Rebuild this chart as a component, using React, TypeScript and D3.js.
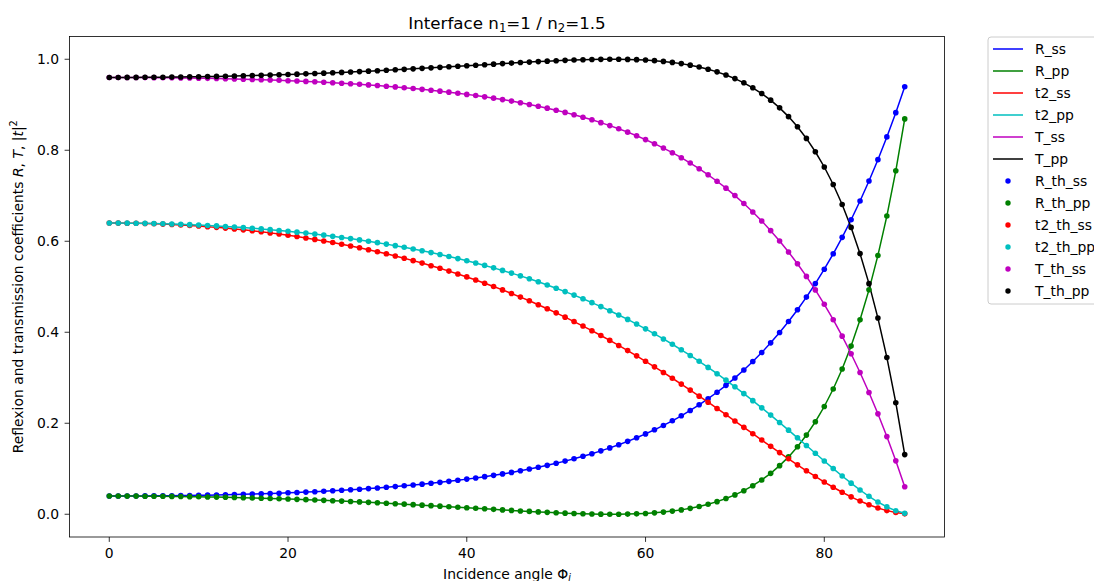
import React from "react";
import * as d3 from "d3";

const angles = [
  0, 1, 2, 3, 4, 5, 6, 7, 8, 9, 10, 11, 12, 13, 14, 15, 16, 17, 18, 19,
  20, 21, 22, 23, 24, 25, 26, 27, 28, 29, 30, 31, 32, 33, 34, 35, 36, 37, 38, 39,
  40, 41, 42, 43, 44, 45, 46, 47, 48, 49, 50, 51, 52, 53, 54, 55, 56, 57, 58, 59,
  60, 61, 62, 63, 64, 65, 66, 67, 68, 69, 70, 71, 72, 73, 74, 75, 76, 77, 78, 79,
  80, 81, 82, 83, 84, 85, 86, 87, 88, 89,
];

const R_ss = [
  0.0400, 0.0400, 0.0401, 0.0401, 0.0403, 0.0404, 0.0406, 0.0408, 0.0411, 0.0413,
  0.0417, 0.0420, 0.0424, 0.0428, 0.0433, 0.0438, 0.0444, 0.0450, 0.0456, 0.0463,
  0.0471, 0.0479, 0.0487, 0.0496, 0.0506, 0.0516, 0.0527, 0.0539, 0.0551, 0.0564,
  0.0578, 0.0593, 0.0608, 0.0625, 0.0642, 0.0661, 0.0680, 0.0701, 0.0723, 0.0747,
  0.0772, 0.0798, 0.0826, 0.0855, 0.0887, 0.0920, 0.0956, 0.0993, 0.1033, 0.1075,
  0.1120, 0.1168, 0.1219, 0.1274, 0.1331, 0.1393, 0.1458, 0.1528, 0.1602, 0.1681,
  0.1766, 0.1856, 0.1952, 0.2054, 0.2164, 0.2281, 0.2405, 0.2539, 0.2681, 0.2833,
  0.2996, 0.3170, 0.3356, 0.3554, 0.3767, 0.3994, 0.4236, 0.4496, 0.4773, 0.5069,
  0.5386, 0.5724, 0.6086, 0.6472, 0.6884, 0.7323, 0.7793, 0.8293, 0.8826, 0.9395,
];

const R_pp = [
  0.0400, 0.0400, 0.0399, 0.0399, 0.0397, 0.0396, 0.0394, 0.0392, 0.0390, 0.0387,
  0.0384, 0.0380, 0.0377, 0.0372, 0.0368, 0.0363, 0.0358, 0.0353, 0.0347, 0.0341,
  0.0335, 0.0328, 0.0321, 0.0313, 0.0306, 0.0297, 0.0289, 0.0280, 0.0271, 0.0262,
  0.0252, 0.0243, 0.0232, 0.0222, 0.0211, 0.0200, 0.0189, 0.0178, 0.0166, 0.0155,
  0.0143, 0.0131, 0.0120, 0.0108, 0.0096, 0.0085, 0.0073, 0.0063, 0.0052, 0.0042,
  0.0033, 0.0024, 0.0017, 0.0010, 0.0005, 0.0002, 0.0000, 0.0001, 0.0003, 0.0009,
  0.0018, 0.0031, 0.0047, 0.0069, 0.0096, 0.0130, 0.0170, 0.0219, 0.0277, 0.0345,
  0.0425, 0.0518, 0.0627, 0.0754, 0.0899, 0.1068, 0.1261, 0.1484, 0.1740, 0.2033,
  0.2368, 0.2753, 0.3193, 0.3696, 0.4273, 0.4932, 0.5688, 0.6554, 0.7548, 0.8689,
];

const t2_ss = [
  0.6400, 0.6399, 0.6397, 0.6394, 0.6390, 0.6384, 0.6377, 0.6368, 0.6358, 0.6347,
  0.6334, 0.6321, 0.6305, 0.6289, 0.6271, 0.6251, 0.6230, 0.6208, 0.6184, 0.6158,
  0.6131, 0.6103, 0.6073, 0.6041, 0.6007, 0.5972, 0.5935, 0.5897, 0.5856, 0.5814,
  0.5770, 0.5724, 0.5676, 0.5626, 0.5574, 0.5520, 0.5463, 0.5405, 0.5344, 0.5281,
  0.5216, 0.5149, 0.5078, 0.5006, 0.4931, 0.4853, 0.4773, 0.4691, 0.4605, 0.4517,
  0.4426, 0.4332, 0.4235, 0.4136, 0.4034, 0.3929, 0.3821, 0.3710, 0.3597, 0.3481,
  0.3362, 0.3240, 0.3116, 0.2989, 0.2860, 0.2729, 0.2596, 0.2462, 0.2325, 0.2188,
  0.2049, 0.1910, 0.1770, 0.1631, 0.1492, 0.1355, 0.1219, 0.1086, 0.0956, 0.0830,
  0.0708, 0.0593, 0.0484, 0.0382, 0.0290, 0.0208, 0.0138, 0.0080, 0.0037, 0.0009,
];

const t2_pp = [
  0.6400, 0.6400, 0.6398, 0.6396, 0.6393, 0.6389, 0.6384, 0.6379, 0.6372, 0.6365,
  0.6356, 0.6347, 0.6337, 0.6325, 0.6313, 0.6300, 0.6286, 0.6271, 0.6255, 0.6237,
  0.6219, 0.6200, 0.6179, 0.6157, 0.6134, 0.6110, 0.6084, 0.6058, 0.6030, 0.6000,
  0.5969, 0.5937, 0.5903, 0.5867, 0.5830, 0.5792, 0.5751, 0.5709, 0.5665, 0.5619,
  0.5571, 0.5522, 0.5469, 0.5415, 0.5359, 0.5300, 0.5239, 0.5175, 0.5109, 0.5040,
  0.4968, 0.4893, 0.4816, 0.4735, 0.4651, 0.4564, 0.4473, 0.4379, 0.4282, 0.4180,
  0.4075, 0.3966, 0.3853, 0.3736, 0.3615, 0.3490, 0.3361, 0.3227, 0.3089, 0.2947,
  0.2801, 0.2651, 0.2497, 0.2339, 0.2179, 0.2015, 0.1848, 0.1680, 0.1510, 0.1340,
  0.1171, 0.1004, 0.0841, 0.0683, 0.0533, 0.0394, 0.0269, 0.0161, 0.0077, 0.0020,
];

const T_ss = [
  0.9600, 0.9600, 0.9599, 0.9599, 0.9597, 0.9596, 0.9594, 0.9592, 0.9589, 0.9587,
  0.9583, 0.9580, 0.9576, 0.9572, 0.9567, 0.9562, 0.9556, 0.9550, 0.9544, 0.9537,
  0.9529, 0.9521, 0.9513, 0.9504, 0.9494, 0.9484, 0.9473, 0.9461, 0.9449, 0.9436,
  0.9422, 0.9407, 0.9392, 0.9375, 0.9358, 0.9339, 0.9320, 0.9299, 0.9277, 0.9253,
  0.9228, 0.9202, 0.9174, 0.9145, 0.9113, 0.9080, 0.9044, 0.9007, 0.8967, 0.8925,
  0.8880, 0.8832, 0.8781, 0.8726, 0.8669, 0.8607, 0.8542, 0.8472, 0.8398, 0.8319,
  0.8234, 0.8144, 0.8048, 0.7946, 0.7836, 0.7719, 0.7595, 0.7461, 0.7319, 0.7167,
  0.7004, 0.6830, 0.6644, 0.6446, 0.6233, 0.6006, 0.5764, 0.5504, 0.5227, 0.4931,
  0.4614, 0.4276, 0.3914, 0.3528, 0.3116, 0.2677, 0.2207, 0.1707, 0.1174, 0.0605,
];

const T_pp = [
  0.9600, 0.9600, 0.9601, 0.9601, 0.9603, 0.9604, 0.9606, 0.9608, 0.9610, 0.9613,
  0.9616, 0.9620, 0.9623, 0.9628, 0.9632, 0.9637, 0.9642, 0.9647, 0.9653, 0.9659,
  0.9665, 0.9672, 0.9679, 0.9687, 0.9694, 0.9703, 0.9711, 0.9720, 0.9729, 0.9738,
  0.9748, 0.9757, 0.9768, 0.9778, 0.9789, 0.9800, 0.9811, 0.9822, 0.9834, 0.9845,
  0.9857, 0.9869, 0.9880, 0.9892, 0.9904, 0.9915, 0.9927, 0.9937, 0.9948, 0.9958,
  0.9967, 0.9976, 0.9983, 0.9990, 0.9995, 0.9998, 1.0000, 0.9999, 0.9997, 0.9991,
  0.9982, 0.9969, 0.9953, 0.9931, 0.9904, 0.9870, 0.9830, 0.9781, 0.9723, 0.9655,
  0.9575, 0.9482, 0.9373, 0.9246, 0.9101, 0.8932, 0.8739, 0.8516, 0.8260, 0.7967,
  0.7632, 0.7247, 0.6807, 0.6304, 0.5727, 0.5068, 0.4312, 0.3446, 0.2452, 0.1311,
];

const lineNames = ["R_ss", "R_pp", "t2_ss", "t2_pp", "T_ss", "T_pp"];
const dotNames = ["R_th_ss", "R_th_pp", "t2_th_ss", "t2_th_pp", "T_th_ss", "T_th_pp"];
const seriesColors = ["#0000ff", "#008000", "#ff0000", "#00bfbf", "#bf00bf", "#000000"];
const xTicks = [0, 20, 40, 60, 80];
const yTicks = [0.0, 0.2, 0.4, 0.6, 0.8, 1.0];

const W = 1094;
const H = 581;
const left = 69.5;
const right = 944.5;
const top = 36.5;
const bottom = 537;
const FONT = "'DejaVu Sans', sans-serif";

export default function App() {
  const series = [R_ss, R_pp, t2_ss, t2_pp, T_ss, T_pp];
  const x = d3.scaleLinear().domain([-4.45, 93.45]).range([left, right]);
  const y = d3.scaleLinear().domain([-0.05, 1.05]).range([bottom, top]);
  const line = d3
    .line<number>()
    .x((_, i) => x(angles[i]))
    .y((d) => y(d));

  const legX = 988;
  const legY = 37;
  const rowY = (k: number) => 49 + 22 * k;

  return (
    <svg
      width={W}
      height={H}
      style={{ position: "absolute", left: 0, top: 0, background: "#fff" }}
      fontFamily={FONT}
    >
      <rect x={0} y={0} width={W} height={H} fill="#fff" />
      {series.map((s, k) => (
        <path key={"l" + k} d={line(s) || ""} fill="none" stroke={seriesColors[k]} strokeWidth={1.5} />
      ))}
      {series.map((s, k) => (
        <g key={"d" + k} fill={seriesColors[k]}>
          {s.map((v, i) => (
            <circle key={i} cx={x(angles[i])} cy={y(v)} r={2.8} />
          ))}
        </g>
      ))}
      <rect x={left} y={top} width={right - left} height={bottom - top} fill="none" stroke="#000" strokeWidth={0.8} />
      {xTicks.map((t) => (
        <g key={"xt" + t}>
          <line x1={x(t)} x2={x(t)} y1={bottom} y2={bottom + 4.9} stroke="#000" strokeWidth={0.8} />
          <text x={x(t)} y={558} fontSize={13.9} textAnchor="middle" fill="#000">
            {t}
          </text>
        </g>
      ))}
      {yTicks.map((t) => (
        <g key={"yt" + t}>
          <line x1={left - 4.9} x2={left} y1={y(t)} y2={y(t)} stroke="#000" strokeWidth={0.8} />
          <text x={left - 10.5} y={y(t) + 5} fontSize={13.9} textAnchor="end" fill="#000">
            {t.toFixed(1)}
          </text>
        </g>
      ))}
      <text x={(left + right) / 2} y={29} fontSize={16.7} textAnchor="middle" fill="#000">
        Interface n
        <tspan fontSize={11.7} dy={3}>1</tspan>
        <tspan dy={-3}>=1 / n</tspan>
        <tspan fontSize={11.7} dy={3}>2</tspan>
        <tspan dy={-3}>=1.5</tspan>
      </text>
      <text x={(left + right) / 2} y={579} fontSize={13.9} textAnchor="middle" fill="#000">
        Incidence angle Φ
        <tspan fontSize={9.7} fontStyle="italic" dy={2}>i</tspan>
      </text>
      <text
        transform={`translate(23, ${(top + bottom) / 2}) rotate(-90)`}
        fontSize={13.9}
        textAnchor="middle"
        fill="#000"
      >
        Reflexion and transmission coefficients <tspan fontStyle="italic">R</tspan>, <tspan fontStyle="italic">T</tspan>, |
        <tspan fontStyle="italic">t</tspan>|<tspan fontSize={9.7} dy={-6}>2</tspan>
      </text>
      <rect
        x={legX}
        y={legY}
        width={W - legX + 20}
        height={304 - legY}
        rx={3}
        fill="#fff"
        fillOpacity={0.8}
        stroke="#cccccc"
        strokeWidth={1}
      />
      {lineNames.map((n, k) => (
        <g key={"lg" + k}>
          <line x1={993} x2={1023} y1={rowY(k)} y2={rowY(k)} stroke={seriesColors[k]} strokeWidth={1.5} />
          <text x={1035} y={rowY(k) + 5} fontSize={13.9} fill="#000">
            {n}
          </text>
        </g>
      ))}
      {dotNames.map((n, k) => (
        <g key={"ld" + k}>
          <circle cx={1008} cy={rowY(k + 6)} r={2.7} fill={seriesColors[k]} />
          <text x={1035} y={rowY(k + 6) + 5} fontSize={13.9} fill="#000">
            {n}
          </text>
        </g>
      ))}
    </svg>
  );
}
